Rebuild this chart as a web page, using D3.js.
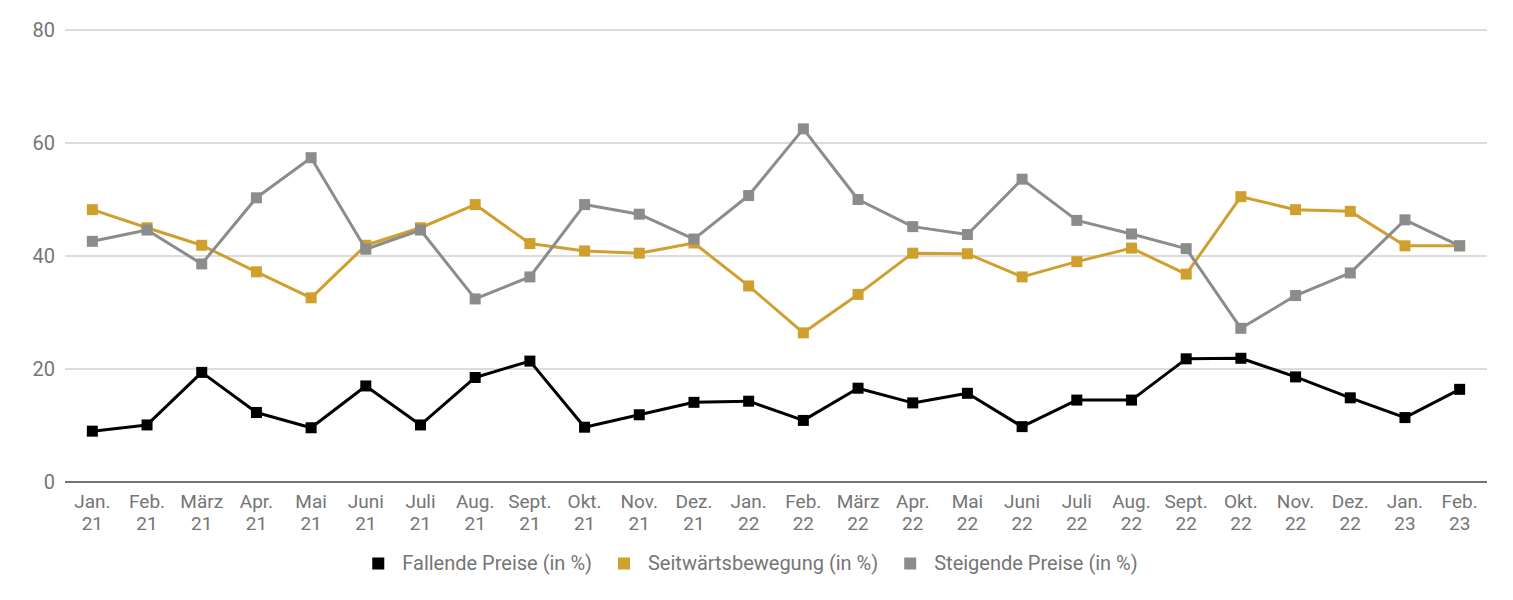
<!DOCTYPE html>
<html>
<head>
<meta charset="utf-8">
<script src="https://cdn.jsdelivr.net/npm/d3@7"></script>
<style>
  html, body { margin: 0; padding: 0; background: #fff; }
  svg { display: block; font-family: Roboto, "Noto Sans", sans-serif; }
</style>
</head>
<body>
<svg id="chart" width="1513" height="600"></svg>
<script>
const months = ["Jan.", "Feb.", "März", "Apr.", "Mai", "Juni", "Juli", "Aug.", "Sept.", "Okt.", "Nov.", "Dez.",
                "Jan.", "Feb.", "März", "Apr.", "Mai", "Juni", "Juli", "Aug.", "Sept.", "Okt.", "Nov.", "Dez.",
                "Jan.", "Feb."];
const years = ["21","21","21","21","21","21","21","21","21","21","21","21",
               "22","22","22","22","22","22","22","22","22","22","22","22",
               "23","23"];
const fallende = [9.0, 10.1, 19.4, 12.3, 9.6, 17.0, 10.1, 18.5, 21.4, 9.7, 11.9, 14.1, 14.3, 10.9, 16.6, 14.0, 15.7,
                  9.8, 14.5, 14.5, 21.8, 21.9, 18.6, 14.9, 11.4, 16.4];
const seitwaerts = [48.2, 45.0, 41.9, 37.2, 32.6, 41.9, 45.0, 49.1, 42.2, 40.9, 40.5, 42.3, 34.7, 26.4, 33.2, 40.5, 40.4,
                    36.3, 39.0, 41.4, 36.8, 50.5, 48.2, 47.9, 41.8, 41.8];
const steigende = [42.6, 44.6, 38.6, 50.3, 57.4, 41.2, 44.6, 32.4, 36.3, 49.1, 47.4, 43.0, 50.7, 62.5, 50.0, 45.2, 43.8,
                   53.6, 46.3, 43.9, 41.3, 27.2, 33.0, 37.0, 46.4, 41.8];
const seriesNames = ["Fallende Preise (in %)", "Seitwärtsbewegung (in %)", "Steigende Preise (in %)"];
const seriesColors = ["#000000", "#D0A02E", "#8A8C8E"];
const yTicks = [0, 20, 40, 60, 80];

const categories = months.map((m, i) => i);
const allSeries = [fallende, seitwaerts, steigende];

const svg = d3.select("#chart");
const margin = { left: 65, right: 26, top: 30, bottom: 118 };
const W = 1513, H = 600;
const textColor = "#757575";
const fontSize = "20px";

const x = d3.scaleBand().domain(categories).range([margin.left, W - margin.right]).padding(0);
const y = d3.scaleLinear().domain([0, 80]).range([H - margin.bottom, margin.top]);

// gridlines
const grid = svg.append("g");
grid.selectAll("line").data(yTicks.filter(t => t !== 0)).join("line")
  .attr("x1", margin.left).attr("x2", W - margin.right)
  .attr("y1", d => y(d)).attr("y2", d => y(d))
  .attr("stroke", "#d0d0d0").attr("stroke-width", 1.3);

// y axis labels
const yAxis = svg.append("g").attr("transform", `translate(${margin.left},0)`)
  .call(d3.axisLeft(y).tickValues(yTicks).tickSize(0).tickPadding(10));
yAxis.select(".domain").remove();
yAxis.selectAll("text").attr("fill", textColor).style("font-size", fontSize).style("font-family", "Roboto");

// baseline
svg.append("line")
  .attr("x1", margin.left).attr("x2", W - margin.right)
  .attr("y1", y(0)).attr("y2", y(0))
  .attr("stroke", "#444").attr("stroke-width", 1.5);

// x labels: two separate text lines per tick
const xAxis = svg.append("g").attr("transform", `translate(0,${y(0)})`)
  .call(d3.axisBottom(x).tickSize(0).tickFormat(d => months[d]));
xAxis.select(".domain").remove();
xAxis.selectAll(".tick text")
  .attr("y", 26).attr("dy", null)
  .attr("fill", textColor).style("font-size", "19px").style("font-family", "Roboto");
xAxis.selectAll(".tick").append("text")
  .attr("y", 48).attr("text-anchor", "middle")
  .attr("fill", textColor).style("font-size", "19px").style("font-family", "Roboto")
  .text(d => years[d]);

// lines & markers
const line = d3.line().x((d, i) => x(i) + x.bandwidth() / 2).y(d => y(d));
allSeries.forEach((s, si) => {
  const g = svg.append("g");
  g.append("path").datum(s).attr("d", line)
    .attr("fill", "none").attr("stroke", seriesColors[si]).attr("stroke-width", 3)
    .attr("stroke-linejoin", "round");
  g.selectAll("rect").data(s).join("rect")
    .attr("x", (d, i) => x(i) + x.bandwidth() / 2 - 5.5)
    .attr("y", d => y(d) - 5.5)
    .attr("width", 11).attr("height", 11)
    .attr("fill", seriesColors[si]);
});

// legend (centered)
const legend = svg.append("g");
const items = seriesNames.map((n, i) => {
  const g = legend.append("g");
  g.append("rect").attr("x", 0).attr("y", -12.5).attr("width", 12).attr("height", 12)
    .attr("fill", seriesColors[i]);
  const t = g.append("text").attr("x", 30).attr("y", 0).text(n)
    .attr("fill", textColor).style("font-size", fontSize).style("font-family", "Roboto");
  return { g, w: 30 + t.node().getComputedTextLength() };
});
const gap = 26;
const total = d3.sum(items, d => d.w) + gap * (items.length - 1);
let cx = 755 - total / 2;
items.forEach(it => {
  it.g.attr("transform", `translate(${cx},570)`);
  cx += it.w + gap;
});
</script>
</body>
</html>
